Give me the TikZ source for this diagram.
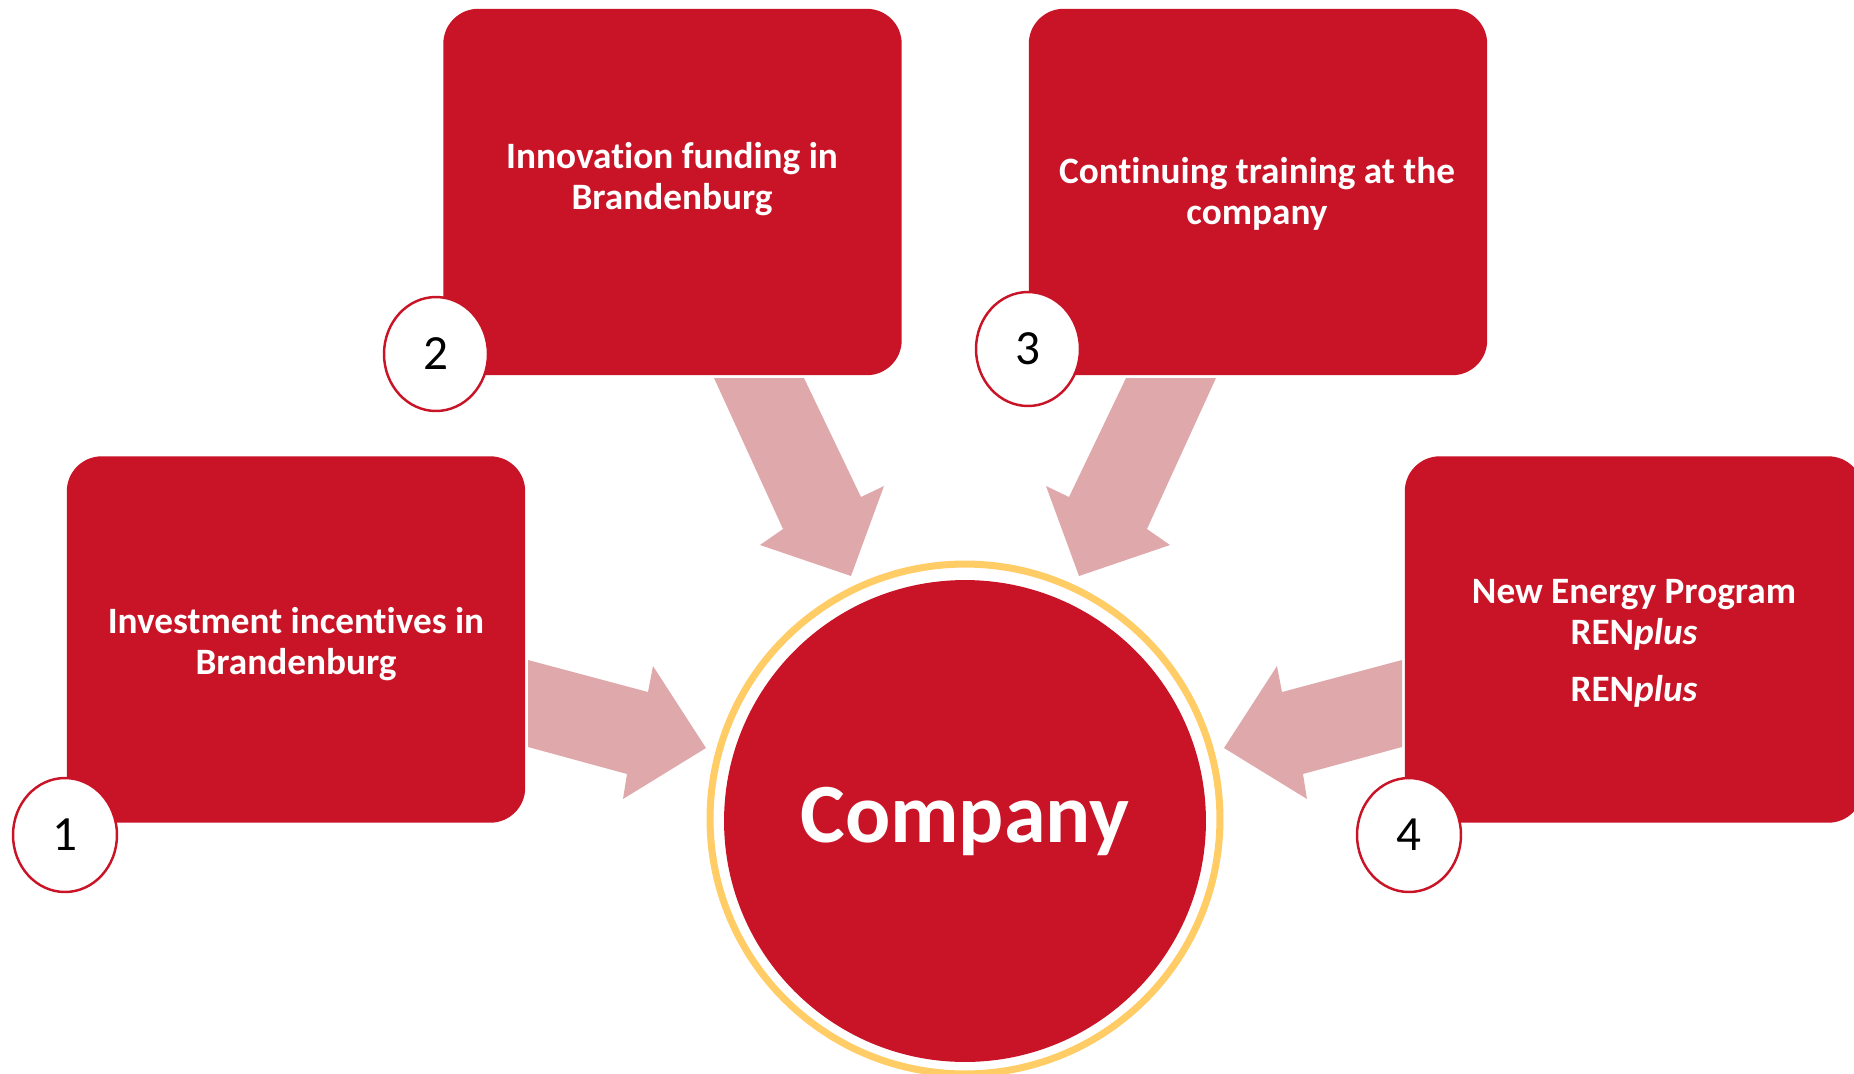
\documentclass[tikz,border=0pt]{standalone}
\usepackage{fontspec}
\setmainfont{Carlito}[Ligatures=NoCommon]
\usepackage{tikz}
\usetikzlibrary{positioning,shapes.geometric}

\definecolor{boxred}{RGB}{200,20,38}
\definecolor{arrowpink}{RGB}{223,169,172}
\definecolor{ringgold}{RGB}{255,204,102}

\tikzset{
  fundbox/.style={rectangle,rounded corners=0.7cm,fill=boxred,minimum width=9.17cm,minimum height=7.33cm,inner sep=0pt},
  fundtext/.style={text=white,font=\fontsize{21.2}{23.4}\selectfont\bfseries,align=center},
  badge/.style={ellipse,draw=boxred,line width=1.4pt,fill=white,minimum width=2.08cm,minimum height=2.28cm,inner sep=0pt,font=\fontsize{28}{30}\selectfont},
  blockarrow/.style={fill=arrowpink}
}

\begin{document}
\begin{tikzpicture}[x=0.02cm,y=-0.02cm]
      \useasboundingbox (0,0) rectangle (1854,1073);

      % arrows towards the company
      \fill[blockarrow] (528,660) -- (648,692) -- (653,666) -- (706,748) -- (623,799) -- (627,774) -- (528,747) -- cycle;
      \fill[blockarrow] (714,378) -- (804,378) -- (861,497) -- (884,486) -- (851,576) -- (760,545) -- (783,529) -- cycle;
      \fill[blockarrow] (1216,378) -- (1126,378) -- (1069,497) -- (1046,486) -- (1079,576) -- (1170,545) -- (1147,529) -- cycle;
      \fill[blockarrow] (1402,660) -- (1282,692) -- (1277,666) -- (1224,748) -- (1307,799) -- (1303,774) -- (1402,747) -- cycle;

      % funding boxes
      \node[fundbox] (box1) at (296,639.5) {};
      \node[fundbox] (box2) at (672.5,192) {};
      \node[fundbox] (box3) at (1258,192) {};
      \node[fundbox] (box4) at (1634,639.5) {};

      \node[fundtext] (t1) at (296,644) {Investment incentives in\\Brandenburg};
      \node[fundtext] (t2) at (672,179) {Innovation funding in\\Brandenburg};
      \node[fundtext] (t3) at (1257,194) {Continuing training at the\\company};
      \node[fundtext] (t4) at (1634,643) {New Energy Program\\REN\textit{plus}\\[9pt]REN\textit{plus}};

      % numbers
      \node[badge] (n1) at (65,835) {1};
      \node[badge] (n2) at (436,354) {2};
      \node[badge] (n3) at (1028,349) {3};
      \node[badge] (n4) at (1409,835) {4};

      % company
      \node[circle,draw=ringgold,line width=4pt,minimum size=10.2cm] (ring) at (965,819) {};
      \node[circle,fill=boxred,minimum size=9.64cm,text=white,font=\fontsize{48}{50}\selectfont\bfseries] (company) at (965,821) {Company};
\end{tikzpicture}
\end{document}
